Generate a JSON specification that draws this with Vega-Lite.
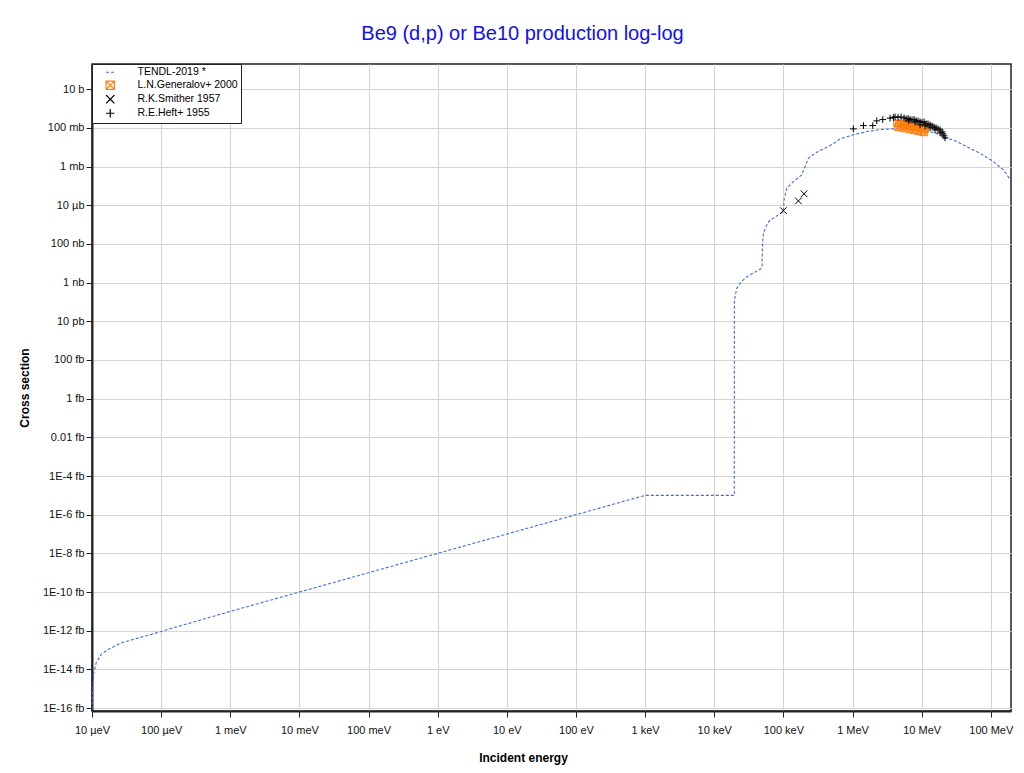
{
  "$schema": "https://vega.github.io/schema/vega-lite/v6.json",
  "width": 919,
  "height": 647,
  "autosize": {"type": "none"},
  "padding": {"left": 92, "top": 64, "right": 13, "bottom": 62},
  "background": "white",
  "title": {
    "text": "Be9 (d,p) or Be10 production log-log",
    "color": "#1010f0",
    "fontSize": 20,
    "font": "Liberation Sans",
    "fontWeight": "normal",
    "offset": 20,
    "dx": -29
  },
  "config": {
    "font": "Liberation Sans",
    "view": {"stroke": "#222", "strokeWidth": 1.5},
    "axis": {
      "domainColor": "#222",
      "domainWidth": 2,
      "tickColor": "#222",
      "tickSize": 6,
      "labelFontSize": 11,
      "labelColor": "#111",
      "labelFont": "Liberation Sans",
      "gridColor": "#d4d4d4",
      "gridWidth": 1,
      "titleFontSize": 12,
      "titleFontWeight": "bold",
      "titleColor": "#000",
      "titleFont": "Liberation Sans"
    },
    "legend": {
      "labelFont": "Liberation Sans"
    }
  },
  "datasets": {
    "tendl": [
      {"E": 1e-5, "xs": 8.5e-32},
      {"E": 1.028e-5, "xs": 1.35e-30},
      {"E": 1.064e-5, "xs": 6.92e-30},
      {"E": 1.148e-5, "xs": 2.19e-29},
      {"E": 1.355e-5, "xs": 6.03e-29},
      {"E": 1.694e-5, "xs": 1.05e-28},
      {"E": 2.642e-5, "xs": 2.34e-28},
      {"E": 4.603e-5, "xs": 4.17e-28},
      {"E": 8.035e-5, "xs": 7.24e-28},
      {"E": 1.396e-4, "xs": 1.32e-27},
      {"E": 1e-3, "xs": 1e-26},
      {"E": 1, "xs": 1e-23},
      {"E": 1000, "xs": 1e-20},
      {"E": 19500, "xs": 1e-20},
      {"E": 19550, "xs": 1.26e-10},
      {"E": 21180, "xs": 5.13e-10},
      {"E": 23660, "xs": 9.3e-10},
      {"E": 27930, "xs": 1.7e-9},
      {"E": 32960, "xs": 2.51e-9},
      {"E": 46030, "xs": 4.9e-9},
      {"E": 49200, "xs": 6.17e-9},
      {"E": 49660, "xs": 7.24e-8},
      {"E": 51400, "xs": 3.55e-7},
      {"E": 57540, "xs": 9.55e-7},
      {"E": 64120, "xs": 1.74e-6},
      {"E": 71610, "xs": 2.14e-6},
      {"E": 94840, "xs": 4.17e-6},
      {"E": 100000, "xs": 4.57e-6},
      {"E": 102300, "xs": 1.91e-5},
      {"E": 111900, "xs": 7.59e-5},
      {"E": 139600, "xs": 1.66e-4},
      {"E": 184500, "xs": 3.72e-4},
      {"E": 206100, "xs": 1e-3},
      {"E": 230100, "xs": 2.69e-3},
      {"E": 287100, "xs": 4.9e-3},
      {"E": 400900, "xs": 8.91e-3},
      {"E": 559800, "xs": 1.74e-2},
      {"E": 660700, "xs": 2.69e-2},
      {"E": 1028000, "xs": 4.37e-2},
      {"E": 1607000, "xs": 6.46e-2},
      {"E": 2500000, "xs": 8.13e-2},
      {"E": 3900000, "xs": 8.91e-2},
      {"E": 6095000, "xs": 8.51e-2},
      {"E": 9484000, "xs": 7.59e-2},
      {"E": 13210000, "xs": 6.46e-2},
      {"E": 18450000, "xs": 4.37e-2},
      {"E": 21780000, "xs": 2.95e-2},
      {"E": 28710000, "xs": 2.4e-2},
      {"E": 44870000, "xs": 1.07e-2},
      {"E": 69820000, "xs": 4.9e-3},
      {"E": 108600000, "xs": 1.82e-3},
      {"E": 151700000, "xs": 6.76e-4},
      {"E": 201000000, "xs": 1.66e-4}
    ],
    "exp": [
      {"series": "L.N.Generalov+ 2000", "E": 4408000, "xs": 0.1706},
      {"series": "L.N.Generalov+ 2000", "E": 4711000, "xs": 0.1626},
      {"series": "L.N.Generalov+ 2000", "E": 5036000, "xs": 0.1549},
      {"series": "L.N.Generalov+ 2000", "E": 5384000, "xs": 0.1478},
      {"series": "L.N.Generalov+ 2000", "E": 5754000, "xs": 0.1409},
      {"series": "L.N.Generalov+ 2000", "E": 6151000, "xs": 0.1343},
      {"series": "L.N.Generalov+ 2000", "E": 6574000, "xs": 0.1282},
      {"series": "L.N.Generalov+ 2000", "E": 7027000, "xs": 0.1222},
      {"series": "L.N.Generalov+ 2000", "E": 7511000, "xs": 0.1164},
      {"series": "L.N.Generalov+ 2000", "E": 8029000, "xs": 0.1111},
      {"series": "L.N.Generalov+ 2000", "E": 8581000, "xs": 0.1059},
      {"series": "L.N.Generalov+ 2000", "E": 9172000, "xs": 0.1009},
      {"series": "L.N.Generalov+ 2000", "E": 9800000, "xs": 0.0962},
      {"series": "L.N.Generalov+ 2000", "E": 10480000, "xs": 0.0918},
      {"series": "L.N.Generalov+ 2000", "E": 11200000, "xs": 0.0875},
      {"series": "L.N.Generalov+ 2000", "E": 4557000, "xs": 0.1097},
      {"series": "L.N.Generalov+ 2000", "E": 5206000, "xs": 0.0998},
      {"series": "L.N.Generalov+ 2000", "E": 5950000, "xs": 0.0907},
      {"series": "L.N.Generalov+ 2000", "E": 6796000, "xs": 0.0825},
      {"series": "L.N.Generalov+ 2000", "E": 7767000, "xs": 0.075},
      {"series": "L.N.Generalov+ 2000", "E": 8871000, "xs": 0.0681},
      {"series": "L.N.Generalov+ 2000", "E": 10130000, "xs": 0.0619},
      {"series": "L.N.Generalov+ 2000", "E": 10830000, "xs": 0.0583},
      {"series": "R.K.Smither 1957", "E": 100000, "xs": 5.25e-6},
      {"series": "R.K.Smither 1957", "E": 164800, "xs": 1.66e-5},
      {"series": "R.K.Smither 1957", "E": 199100, "xs": 3.89e-5},
      {"series": "R.E.Heft+ 1955", "E": 1028000, "xs": 0.0885},
      {"series": "R.E.Heft+ 1955", "E": 1440000, "xs": 0.131},
      {"series": "R.E.Heft+ 1955", "E": 1963000, "xs": 0.131},
      {"series": "R.E.Heft+ 1955", "E": 2244000, "xs": 0.23},
      {"series": "R.E.Heft+ 1955", "E": 2738000, "xs": 0.268},
      {"series": "R.E.Heft+ 1955", "E": 3490000, "xs": 0.317},
      {"series": "R.E.Heft+ 1955", "E": 3900000, "xs": 0.34},
      {"series": "R.E.Heft+ 1955", "E": 4124000, "xs": 0.37},
      {"series": "R.E.Heft+ 1955", "E": 4557000, "xs": 0.348},
      {"series": "R.E.Heft+ 1955", "E": 5036000, "xs": 0.37},
      {"series": "R.E.Heft+ 1955", "E": 5566000, "xs": 0.328},
      {"series": "R.E.Heft+ 1955", "E": 5950000, "xs": 0.291},
      {"series": "R.E.Heft+ 1955", "E": 6360000, "xs": 0.309},
      {"series": "R.E.Heft+ 1955", "E": 6796000, "xs": 0.274},
      {"series": "R.E.Heft+ 1955", "E": 7264000, "xs": 0.259},
      {"series": "R.E.Heft+ 1955", "E": 7767000, "xs": 0.274},
      {"series": "R.E.Heft+ 1955", "E": 8299000, "xs": 0.23},
      {"series": "R.E.Heft+ 1955", "E": 8871000, "xs": 0.23},
      {"series": "R.E.Heft+ 1955", "E": 9480000, "xs": 0.204},
      {"series": "R.E.Heft+ 1955", "E": 10130000, "xs": 0.192},
      {"series": "R.E.Heft+ 1955", "E": 10830000, "xs": 0.204},
      {"series": "R.E.Heft+ 1955", "E": 11580000, "xs": 0.161},
      {"series": "R.E.Heft+ 1955", "E": 12370000, "xs": 0.161},
      {"series": "R.E.Heft+ 1955", "E": 13230000, "xs": 0.143},
      {"series": "R.E.Heft+ 1955", "E": 14140000, "xs": 0.126},
      {"series": "R.E.Heft+ 1955", "E": 15110000, "xs": 0.112},
      {"series": "R.E.Heft+ 1955", "E": 16160000, "xs": 0.0998},
      {"series": "R.E.Heft+ 1955", "E": 17270000, "xs": 0.0885},
      {"series": "R.E.Heft+ 1955", "E": 18460000, "xs": 0.0786},
      {"series": "R.E.Heft+ 1955", "E": 19720000, "xs": 0.0619},
      {"series": "R.E.Heft+ 1955", "E": 20390000, "xs": 0.0489},
      {"series": "R.E.Heft+ 1955", "E": 21080000, "xs": 0.0385},
      {"series": "R.E.Heft+ 1955", "E": 21800000, "xs": 0.0303},
      {"series": "R.E.Heft+ 1955", "E": 9480000, "xs": 0.143},
      {"series": "R.E.Heft+ 1955", "E": 11200000, "xs": 0.126},
      {"series": "R.E.Heft+ 1955", "E": 13230000, "xs": 0.0998},
      {"series": "R.E.Heft+ 1955", "E": 15600000, "xs": 0.0786},
      {"series": "R.E.Heft+ 1955", "E": 18460000, "xs": 0.055},
      {"series": "R.E.Heft+ 1955", "E": 6500000, "xs": 0.23},
      {"series": "R.E.Heft+ 1955", "E": 8000000, "xs": 0.2}
    ]
  },
  "encoding": {
    "x": {
      "field": "E",
      "type": "quantitative",
      "scale": {"type": "log", "domain": [1e-5, 1.96e8], "nice": false},
      "axis": {
        "title": "Incident energy",
        "values": [1e-5, 1e-4, 1e-3, 1e-2, 1e-1, 1, 10, 100, 1000, 10000, 100000, 1000000, 10000000, 100000000],
        "labelExpr": "['10 µeV','100 µeV','1 meV','10 meV','100 meV','1 eV','10 eV','100 eV','1 keV','10 keV','100 keV','1 MeV','10 MeV','100 MeV'][round(log(datum.value)/LN10)+5]",
        "labelPadding": 7,
        "titlePadding": 17,
        "titleX": 431,
        "labelFlush": false
      }
    },
    "y": {
      "field": "xs",
      "type": "quantitative",
      "scale": {"type": "log", "domain": [7.1e-32, 200], "nice": false},
      "axis": {
        "title": "Cross section",
        "values": [10, 0.1, 1e-3, 1e-5, 1e-7, 1e-9, 1e-11, 1e-13, 1e-15, 1e-17, 1e-19, 1e-21, 1e-23, 1e-25, 1e-27, 1e-29, 1e-31],
        "labelExpr": "['10 b','100 mb','1 mb','10 µb','100 nb','1 nb','10 pb','100 fb','1 fb','0.01 fb','1E-4 fb','1E-6 fb','1E-8 fb','1E-10 fb','1E-12 fb','1E-14 fb','1E-16 fb'][round((1-log(datum.value)/LN10)/2)]",
        "labelPadding": 2,
        "titleX": -61,
        "labelFlush": false
      }
    }
  },
  "layer": [
    {
      "data": {"name": "tendl"},
      "transform": [{"calculate": "'TENDL-2019 *'", "as": "series"}],
      "mark": {"type": "line", "strokeWidth": 1.1, "clip": true},
      "encoding": {
        "color": {
          "field": "series",
          "type": "nominal",
          "scale": {
            "domain": ["TENDL-2019 *", "L.N.Generalov+ 2000", "R.K.Smither 1957", "R.E.Heft+ 1955"],
            "range": ["#3f6be8", "#ff7f0e", "#000000", "#000000"]
          },
          "legend": {
            "orient": "none",
            "legendX": 0,
            "legendY": 0,
            "title": null,
            "strokeColor": "#222",
            "fillColor": "white",
            "padding": 3,
            "labelFontSize": 10.5,
            "labelColor": "#000",
            "symbolStrokeWidth": 1.2,
            "symbolOpacity": 1,
            "rowPadding": 0,
            "symbolOffset": 10,
            "labelOffset": 22,
            "symbolSize": 70
          }
        },
        "strokeDash": {
          "field": "series",
          "type": "nominal",
          "scale": {
            "domain": ["TENDL-2019 *", "L.N.Generalov+ 2000", "R.K.Smither 1957", "R.E.Heft+ 1955"],
            "range": [[3, 2], [1, 0], [1, 0], [1, 0]]
          },
          "legend": null
        }
      }
    },
    {
      "data": {"name": "exp"},
      "mark": {"type": "point", "filled": false, "strokeWidth": 1, "size": 45, "opacity": 1, "clip": true},
      "encoding": {
        "color": {"field": "series", "type": "nominal"},
        "shape": {
          "field": "series",
          "type": "nominal",
          "scale": {
            "domain": ["TENDL-2019 *", "L.N.Generalov+ 2000", "R.K.Smither 1957", "R.E.Heft+ 1955"],
            "range": ["stroke", "M-1,-1L1,-1L1,1L-1,1Z M-1,-1L1,1 M1,-1L-1,1", "M-1,-1L1,1M1,-1L-1,1", "M-1,0L1,0M0,-1L0,1"]
          }
        }
      }
    }
  ]
}
